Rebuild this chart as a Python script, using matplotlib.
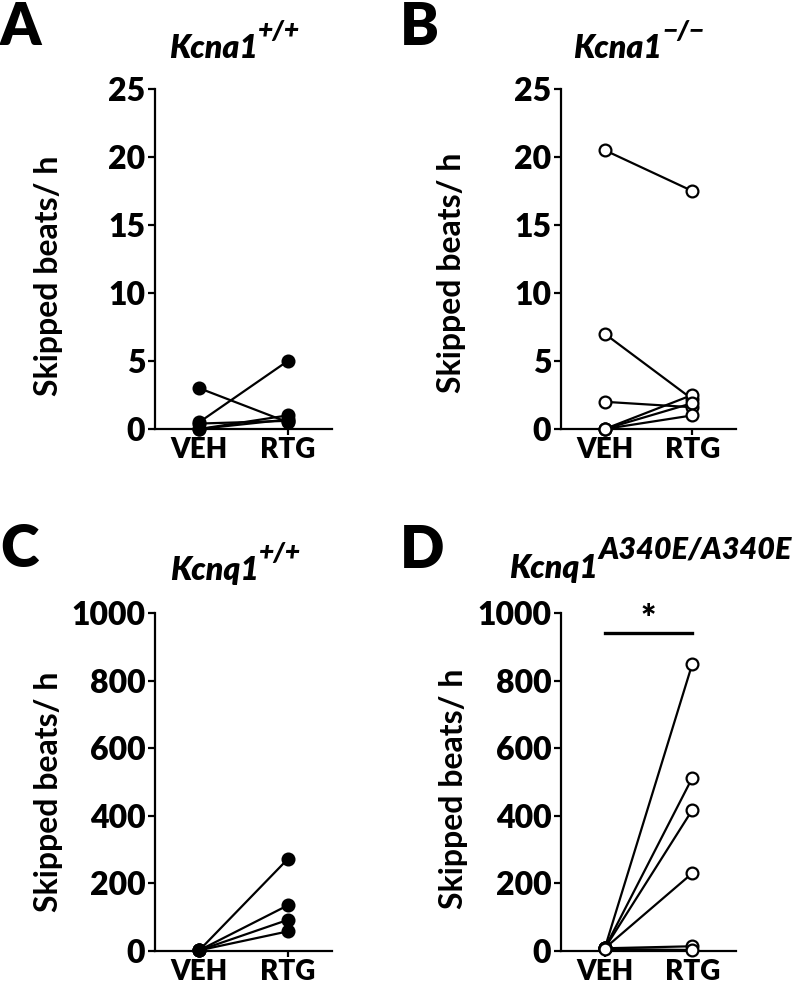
import numpy as np
import matplotlib
matplotlib.use("Agg")
import matplotlib.pyplot as plt

plt.rcParams['font.family'] = ['Lato', 'DejaVu Sans']
plt.rcParams['font.weight'] = 'bold'

groups = ["VEH", "RTG"]

# skipped beats per hour, one pair per mouse
kcna1_wt_veh = [3.0, 0.5, 0.4, 0.0, 0.0]
kcna1_wt_rtg = [0.5, 5.0, 0.6, 1.0, 0.7]

kcna1_ko_veh = [20.5, 7.0, 2.0, 0.0, 0.0, 0.0]
kcna1_ko_rtg = [17.5, 2.2, 1.6, 2.5, 1.9, 1.0]

kcnq1_wt_veh = [2.0, 2.0, 2.0, 2.0]
kcnq1_wt_rtg = [272, 135, 92, 58]

kcnq1_mut_veh = [8, 8, 8, 8, 8, 6]
kcnq1_mut_rtg = [849, 512, 417, 230, 14, 3]

W, H = 800, 986
fig = plt.figure(figsize=(W / 100, H / 100), dpi=100)


def px_axes(left, top, right, bottom):
    return fig.add_axes([left / W, 1 - bottom / H, (right - left) / W, (bottom - top) / H])


def panel(ax, veh, rtg, ymax, ystep, filled):
    x = np.arange(len(groups))
    for v, r in zip(veh, rtg):
        ax.plot(x, [v, r], color='black', lw=1.6, marker='o', ms=8.5,
                mfc='black' if filled else 'white', mec='black', mew=1.6,
                clip_on=False, zorder=3)
    ax.set_xlim(-0.5, 1.5)
    ax.set_ylim(0, ymax)
    ax.set_yticks(np.arange(0, ymax + 1, ystep))
    ax.set_xticks(x)
    ax.set_xticklabels(groups, fontsize=20, fontweight='heavy')
    for lab in ax.get_yticklabels():
        lab.set_fontsize(23)
        lab.set_fontweight('heavy')
    for s in ['top', 'right']:
        ax.spines[s].set_visible(False)
    for s in ['left', 'bottom']:
        ax.spines[s].set_linewidth(1.6)
    ax.tick_params(width=1.6, length=5, pad=2)
    ax.tick_params(axis='x', length=4, pad=2)
    ax.set_ylabel("Skipped beats/ h", fontsize=23, fontweight='bold')


axA = px_axes(155, 89, 332, 429)
axB = px_axes(561, 89, 736, 429)
axC = px_axes(155, 613, 332, 951)
axD = px_axes(561, 613, 736, 951)

panel(axA, kcna1_wt_veh, kcna1_wt_rtg, 25, 5, True)
panel(axB, kcna1_ko_veh, kcna1_ko_rtg, 25, 5, False)
panel(axC, kcnq1_wt_veh, kcnq1_wt_rtg, 1000, 200, True)
panel(axD, kcnq1_mut_veh, kcnq1_mut_rtg, 1000, 200, False)

axA.yaxis.set_label_coords(-0.52, 0.45)
axB.yaxis.set_label_coords(-0.54, 0.46)
axC.yaxis.set_label_coords(-0.52, 0.47)
axD.yaxis.set_label_coords(-0.53, 0.48)

# significance bar in D
axD.plot([0, 1], [940, 940], color='black', lw=2.4, clip_on=False)
axD.text(0.5, 932, "*", ha='center', va='bottom', fontsize=26, fontweight='heavy')

# panel letters
for lab, xp, yp in [("A", 0, 45), ("B", 400, 45), ("C", 0, 567), ("D", 400, 568)]:
    fig.text(xp / W, 1 - yp / H, lab, fontsize=42, fontweight='heavy', ha='left', va='baseline')

# titles: base + superscript
titles = [
    ("Kcna1", "+/+", 258, 58, 19),
    ("Kcna1", "\u2212/\u2212", 662, 58, 19),
    ("Kcnq1", "+/+", 259, 580, 19),
    ("Kcnq1", "A340E/A340E", 598, 578, 22),
]
for base, sup, xp, yp, ss in titles:
    fig.text(xp / W, 1 - yp / H, base, fontsize=23, fontweight='heavy', style='italic',
             ha='right', va='baseline')
    fig.text(xp / W, 1 - (yp - 19) / H, sup, fontsize=ss, fontweight='heavy', style='italic',
             ha='left', va='baseline')

fig.savefig("out.png", dpi=100)
